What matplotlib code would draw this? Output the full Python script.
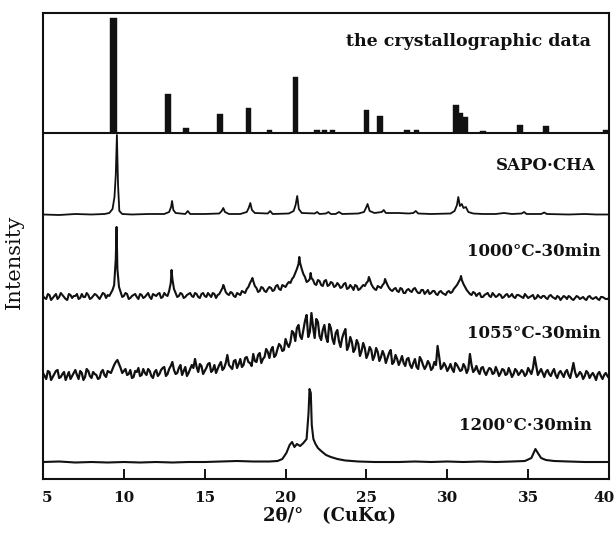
import numpy as np
import matplotlib
matplotlib.use("Agg")
import matplotlib.pyplot as plt
import matplotlib.transforms as mtransforms

# ---------------------------------------------------------------- data
# reference pattern (stick intensities, a.u.)
cryst_tt = [9.35, 12.72, 13.85, 15.95, 17.7, 19.0, 20.6, 21.95, 22.4, 22.9,
            25.0, 25.85, 27.5, 28.1, 30.55, 30.8, 31.1, 32.2, 34.5, 36.1, 39.8]
cryst_I = [115, 39, 5, 19, 25, 3, 56, 3, 3, 3,
           23, 17, 3, 3, 28, 20, 16, 2, 8, 7, 3]

# as-synthesised SAPO-CHA
sapo_tt = [5.0, 6.0, 7.0, 8.0, 8.8, 9.1, 9.3, 9.42, 9.5, 9.57, 9.64, 9.72, 9.9,
           10.5, 11.5, 12.5, 12.8, 12.92, 12.98, 13.06, 13.2, 13.8, 13.95, 14.1,
           15.0, 15.9, 16.05, 16.15, 16.25, 16.5, 17.2, 17.6, 17.72, 17.82, 17.92,
           18.1, 18.9, 19.05, 19.2, 20.2, 20.5, 20.62, 20.72, 20.82, 21.0, 21.8,
           21.95, 22.1, 22.5, 22.65, 22.8, 23.1, 23.3, 23.5, 24.5, 24.85, 24.97,
           25.07, 25.2, 25.5, 25.95, 26.07, 26.2, 27.0, 27.6, 27.9, 28.05, 28.2,
           29.0, 30.2, 30.45, 30.6, 30.68, 30.78, 30.9, 31.0, 31.15, 31.3, 31.6,
           32.2, 33.0, 33.5, 34.0, 34.6, 34.75, 34.9, 35.8, 36.0, 36.15, 37.5,
           38.5, 39.2, 40.0]
sapo_I = [0.5, 0, 1, 0.5, 1, 2, 6, 18, 40, 80, 30, 4, 1,
          0.5, 1, 1, 3, 8, 14, 5, 2, 1, 4, 1,
          1, 1.5, 4, 7, 3, 1, 1, 3, 7, 12, 5,
          2, 1.5, 4, 1, 1.5, 4, 10, 19, 6, 2, 1.5,
          3, 1, 1.5, 3, 1, 1, 3, 1, 1.5, 3, 7,
          11, 4, 2, 3, 5, 2, 2, 1.5, 2, 4, 1.5,
          1, 1.5, 4, 10, 18, 9, 11, 7, 8, 3, 1.5,
          1, 1, 2, 1, 1.5, 3, 1, 1, 2.5, 1, 0.5,
          1, 0.5, 0.5]

# step-scan grid of the heat-treated samples (0.1 deg step, stored as
# even and odd points)
scan_tt = np.round(np.arange(5.0, 40.0001, 0.2), 2)
scan_tt_odd = np.round(np.arange(5.1, 39.9001, 0.2), 2)

# 1000 C - 30 min : counts on even / odd steps and reflection maxima
i_1000 = [3, 0, 4, 1, 5, 2, 4, 0, 5, 1, 3, 0, 5, 2, 4, 1, 5, 2, 3, 5,
          4, 6, 14, 30, 7, 3, 5, 1, 4, 2, 5, 1, 4, 2, 5, 3, 6, 2, 4, 8,
          20, 6, 3, 5, 2, 5, 3, 6, 2, 5, 3, 6, 2, 5, 4, 8, 12, 5, 7, 3,
          6, 4, 7, 10, 16, 18, 11, 8, 11, 7, 12, 8, 13, 10, 14, 12, 17, 20, 26, 35,
          30, 22, 18, 21, 15, 19, 14, 18, 13, 17, 12, 16, 11, 15, 10, 14, 9, 13, 10, 14,
          16, 20, 12, 9, 12, 14, 18, 11, 8, 11, 7, 10, 6, 10, 7, 11, 6, 9, 5, 9,
          6, 8, 4, 8, 5, 7, 6, 10, 14, 20, 15, 9, 5, 7, 3, 6, 2, 5, 3, 6,
          2, 5, 1, 4, 2, 5, 1, 4, 2, 5, 1, 3, 0, 4, 1, 3, 0, 4, 1, 3,
          -1, 3, 0, 2, -1, 3, 0, 2, -1, 3, 0, 2, -1, 2, 0, 1]
i_1000_odd = [1, 5, -1, 3, 0, 6, 2, -1, 4, 3,
              5, 1, 2, 6, 0, 3, 4, 0, 6, 1,
              3, 9, 40, 12, 2, 6, 0, 3, 5, 0,
              4, 2, 6, 0, 4, 5, 1, 6, 3, 16,
              10, 2, 6, 1, 4, 6, 2, 5, 1, 6,
              2, 4, 6, 1, 5, 11, 7, 4, 6, 2,
              5, 8, 6, 12, 19, 13, 7, 12, 8, 10,
              11, 9, 14, 9, 13, 15, 16, 22, 30, 36,
              25, 17, 20, 19, 14, 18, 13, 19, 14, 16,
              13, 14, 12, 16, 11, 12, 14, 9, 12, 13,
              18, 15, 10, 13, 11, 16, 14, 9, 10, 8,
              11, 6, 9, 8, 10, 8, 6, 9, 7, 5,
              8, 5, 7, 6, 4, 8, 7, 12, 17, 19,
              12, 7, 4, 6, 5, 2, 4, 6, 2, 4,
              3, 4, 2, 5, 3, 2, 4, 3, 1, 3,
              2, 4, 1, 2, 3, 1, 3, 2, 0, 2,
              1, 2, 3, 0, 1, 2, 1, 0, 2, 1,
              1, 0, 2, 1, 0]
peak_tt_1000 = [9.55, 12.95, 16.15, 17.95, 20.85, 21.55, 25.15, 26.15, 30.85]
peak_I_1000 = [72, 29, 14, 21, 42, 26, 22, 20, 23]

# 1055 C - 30 min : counts on even / odd steps
i_1055 = [4, -2, 5, 0, 6, -1, 3, -3, 5, 1, 7, -2, 4, 0, 6, -1, 3, -2, 5, 2,
          6, 4, 12, 17, 9, 6, 2, 7, 0, 5, 1, 8, 2, 6, -1, 7, 3, 9, 1, 8,
          15, 3, 9, 2, 10, 4, 12, 18, 5, 11, 6, 13, 5, 12, 8, 15, 9, 22, 10, 16,
          9, 18, 12, 20, 14, 23, 15, 24, 18, 28, 19, 30, 22, 33, 26, 38, 30, 46, 36, 52,
          38, 56, 40, 64, 39, 55, 37, 52, 35, 49, 33, 47, 30, 44, 27, 40, 25, 37, 21, 34,
          19, 30, 17, 29, 16, 26, 14, 24, 13, 22, 12, 21, 11, 19, 9, 18, 8, 17, 8, 16,
          7, 15, 31, 8, 14, 6, 13, 5, 12, 6, 13, 4, 23, 5, 11, 3, 10, 2, 9, 3,
          10, 1, 8, 2, 9, 0, 8, 2, 7, 1, 9, 3, 20, 2, 8, 0, 7, 1, 8, -1,
          6, 0, 7, -1, 14, 0, 5, -2, 6, -1, 4, -3, 5, -2, 4, -1]
i_1055_odd = [1, 6, -3, 3, 7, 0, 5, 1, -2, 4,
              2, 6, -3, 8, 1, 5, 2, -1, 7, 0,
              5, 8, 15, 13, 4, 8, 3, -1, 6, 9,
              2, 4, 8, 1, 5, 1, 7, 10, 3, 11,
              7, 4, 12, 6, 1, 8, 9, 10, 13, 3,
              9, 14, 7, 4, 12, 7, 14, 12, 8, 17,
              13, 10, 19, 15, 11, 16, 22, 14, 20, 25,
              27, 20, 28, 31, 27, 33, 35, 44, 49, 41,
              47, 62, 45, 50, 58, 41, 47, 40, 53, 38,
              44, 36, 39, 48, 31, 35, 28, 33, 26, 29,
              23, 27, 21, 25, 20, 22, 19, 27, 15, 18,
              16, 14, 18, 12, 14, 10, 20, 12, 11, 13,
              9, 12, 20, 10, 11, 9, 8, 14, 9, 7,
              10, 8, 12, 7, 6, 9, 5, 6, 8, 4,
              6, 4, 7, 3, 5, 3, 6, 4, 5, 3,
              6, 9, 11, 5, 4, 5, 3, 5, 2, 4,
              3, 5, 2, 6, 5, 2, 3, 1, 4, 2,
              1, 3, 1, 2, 1]

# 1200 C - 30 min
tt_1200 = [5.0, 6.0, 7.0, 8.0, 9.0, 10.0, 11.0, 12.0, 13.0, 14.0, 15.0, 16.0,
           17.0, 18.0, 19.0, 19.5, 19.8, 20.05, 20.25, 20.4, 20.55, 20.7, 20.9,
           21.1, 21.3, 21.42, 21.48, 21.56, 21.62, 21.72, 21.85, 22.0, 22.2, 22.5,
           22.8, 23.2, 23.7, 24.5, 25.5, 27.0, 28.0, 29.0, 30.0, 31.0, 32.0, 33.0,
           34.0, 34.8, 35.2, 35.45, 35.6, 35.8, 36.1, 36.6, 37.5, 38.5, 39.5, 40.0]
i_1200 = [1, 1.5, 0.5, 1, 0.5, 1, 0.5, 1, 0.5, 1, 1, 1.5,
          2, 1.5, 1.5, 2, 4, 10, 18, 21, 16, 19, 17,
          20, 24, 50, 74, 70, 38, 24, 19, 15, 12, 8,
          6, 4, 2.5, 1.5, 1, 1, 1.5, 1, 1.5, 1, 1.5, 1,
          1.5, 2, 5, 14, 10, 5, 3, 2, 1.5, 1, 1, 1]

labels = ["the crystallographic data", "SAPO·CHA", "1000°C-30min",
          "1055°C-30min", "1200°C·30min"]
x_ticks = [5, 10, 15, 20, 25, 30, 35, 40]


def merged(*pairs):
    """Join several (2theta, counts) sets into one sorted scan."""
    tt = np.concatenate([np.asarray(p[0], float) for p in pairs])
    ii = np.concatenate([np.asarray(p[1], float) for p in pairs])
    order = np.argsort(tt, kind="stable")
    return tt[order], ii[order]


# ---------------------------------------------------------------- figure
INK = "#111111"
SERIF = "DejaVu Serif"

fig = plt.figure(figsize=(6.14, 5.38), dpi=100)
ax = fig.add_axes([43 / 614, 59 / 538, 566 / 614, 466 / 538])
ax.set_xlim(5, 40)
ax.set_ylim(0, 466)

# vertical offsets of the stacked patterns
off_cryst, off_sapo, off_1000, off_1055, off_1200 = 346, 264, 180, 102, 16

# stick pattern
ax.plot([5, 40], [off_cryst, off_cryst], color=INK, lw=1.5)
widths = [0.42] + [0.34] * (len(cryst_tt) - 1)
ax.bar(cryst_tt, cryst_I, width=widths, bottom=off_cryst, color=INK,
       edgecolor=INK, linewidth=0.3)

# SAPO-CHA
ax.plot(sapo_tt, np.asarray(sapo_I) + off_sapo, color=INK, lw=1.3)

# 1000 C
tt_a, ii_a = merged((scan_tt, i_1000), (scan_tt_odd, i_1000_odd),
                    (peak_tt_1000, peak_I_1000))
ax.plot(tt_a, ii_a + off_1000, color=INK, lw=1.5)

# 1055 C
tt_b, ii_b = merged((scan_tt, i_1055), (scan_tt_odd, i_1055_odd))
ax.plot(tt_b, ii_b + off_1055, color=INK, lw=1.6)

# 1200 C
ax.plot(tt_1200, np.asarray(i_1200) + off_1200, color=INK, lw=1.5)

# sample labels
label_pos = [(38.9, 438), (39.2, 314), (39.5, 228), (39.5, 146), (38.95, 53)]
label_size = [12.5, 12, 12, 12, 12]
for text, (lx, ly), fs in zip(labels, label_pos, label_size):
    ax.text(lx, ly, text, ha="right", va="center", fontsize=fs,
            fontweight="bold", family=SERIF, color=INK)

# axes frame and ticks
for sp in ax.spines.values():
    sp.set_linewidth(1.5)
    sp.set_color(INK)
ax.set_yticks([])
ax.set_xticks(x_ticks)
ax.set_xticklabels([str(t) for t in x_ticks])
ax.tick_params(axis="x", direction="in", length=7, width=1.4, pad=9,
               colors=INK, labelsize=11)
for lab in ax.get_xticklabels():
    lab.set_fontfamily(SERIF)
    lab.set_fontweight("bold")
last = ax.get_xticklabels()[-1]
last.set_transform(last.get_transform() +
                   mtransforms.ScaledTranslation(-5 / 100, 0, fig.dpi_scale_trans))
first = ax.get_xticklabels()[0]
first.set_transform(first.get_transform() +
                    mtransforms.ScaledTranslation(4 / 100, 0, fig.dpi_scale_trans))

fig.text(330 / 614, 1 - 516 / 538, "2θ/°   (CuKα)", ha="center", va="center",
         fontsize=13, fontweight="bold", family=SERIF, color=INK)
fig.text(14 / 614, 1 - 262 / 538, "Intensity", ha="center", va="center",
         rotation=90, fontsize=15, family=SERIF, color=INK)

fig.savefig("out.png", dpi=100, facecolor="white")
